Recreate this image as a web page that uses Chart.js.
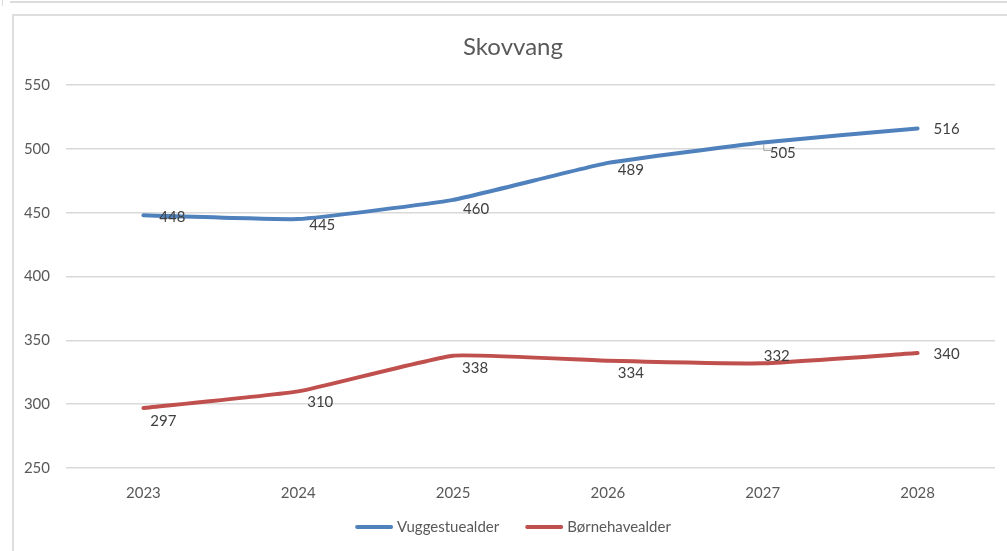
<!DOCTYPE html>
<html>
<head>
<meta charset="utf-8">
<script src="https://cdn.jsdelivr.net/npm/chart.js@4.4.0/dist/chart.umd.min.js"></script>
<style>
  html, body { margin: 0; padding: 0; background: #fff; }
  #wrap { position: relative; width: 1007px; height: 551px; overflow: hidden; }
  .topline { position: absolute; left: 10px; top: 1px; width: 1000px; height: 2px; background: #dcdcdc; }
  .tick { position: absolute; left: 2px; top: 0; width: 1px; height: 6px; background: #dcdcdc; }
  .frame { position: absolute; left: 12px; top: 14px; width: 1100px; height: 600px; border: 2px solid #dedede; }
  canvas { position: absolute; left: 0; top: 0; }
</style>
</head>
<body>
<div id="wrap">
  <div class="topline"></div>
  <div class="tick"></div>
  <div class="frame"></div>
  <canvas id="chart" width="1007" height="551"></canvas>
</div>
<script>
// data
var chartTitle = "Skovvang";
var years = ["2023", "2024", "2025", "2026", "2027", "2028"];
var vuggestue = [448, 445, 460, 489, 505, 516];
var boernehave = [297, 310, 338, 334, 332, 340];
var yTicks = [250, 300, 350, 400, 450, 500, 550];

// label offsets (px from point)
var offsVugge = [[29, 2], [24, 6], [23, 9], [23, 7], [20, 11], [29, 1]];
var offsBoern = [[20, 13], [22, 11], [22, 13], [23, 12], [14, -7], [29, 1]];

var fontName = "Lato, 'Open Sans', sans-serif";
var padRight = 12, padBottom = 6, padTop = 85;
var midX = 513;

var labelPlugin = {
    id: 'pointLabels',
    afterDatasetsDraw: function(chart) {
        var ctx = chart.ctx;
        ctx.save();
        ctx.font = "15px " + fontName;
        ctx.fillStyle = "#404040";
        ctx.textAlign = "center";
        ctx.textBaseline = "middle";
        chart.data.datasets.forEach(function(ds, di) {
            var meta = chart.getDatasetMeta(di);
            var offs = di == 0 ? offsVugge : offsBoern;
            meta.data.forEach(function(pt, i) {
                ctx.fillText(ds.data[i], pt.x + offs[i][0], pt.y + offs[i][1]);
            });
        });
        // little leader line at 2027 (blue)
        var p = chart.getDatasetMeta(0).data[4];
        ctx.strokeStyle = "#a6a6a6";
        ctx.lineWidth = 1;
        ctx.beginPath();
        ctx.moveTo(p.x + 1, p.y + 2);
        ctx.lineTo(p.x + 1, p.y + 8);
        ctx.lineTo(p.x + 9, p.y + 8);
        ctx.stroke();
        ctx.restore();
    }
};

/* title + legend */
var textPlugin = {
    id: 'titleLegend',
    afterDraw: function(chart) {
        var ctx = chart.ctx;
        ctx.save();
        ctx.textBaseline = "middle";

        ctx.font = "24px " + fontName;
        ctx.fillStyle = "#595959";
        ctx.textAlign = "center";
        ctx.fillText(chartTitle, midX, 47);

        ctx.textAlign = "left";
        ctx.font = "15px " + fontName;
        var lineW = 38, gapText = 4, gapItem = 26;
        var items = chart.data.datasets;
        var total = 0;
        items.forEach(function(ds, i) {
            total += lineW + gapText + ctx.measureText(ds.label).width;
            if (i < items.length - 1) total += gapItem;
        });
        var x = midX - total / 2;
        var y = 527;
        items.forEach(function(ds) {
            ctx.strokeStyle = ds.borderColor;
            ctx.lineWidth = 4;
            ctx.lineCap = 'round';
            ctx.beginPath();
            ctx.moveTo(x + 2, y);
            ctx.lineTo(x + lineW - 2, y);
            ctx.stroke();
            x += lineW + gapText;
            ctx.fillStyle = "#595959";
            ctx.fillText(ds.label, x, y);
            x += ctx.measureText(ds.label).width + gapItem;
        });
        ctx.restore();
    }
};

var ctx = document.getElementById("chart").getContext("2d");
window.theChart = new Chart(ctx, {
    type: 'line',
    data: {
        labels: years,
        datasets: [{
            label: 'Vuggestuealder',
            data: vuggestue,
            borderColor: "#4f81bd",
            backgroundColor: "#4f81bd",
            borderWidth: 4,
            pointRadius: 0,
            tension: 0.12,
            borderCapStyle: 'round'
        }, {
            label: 'Børnehavealder',
            data: boernehave,
            borderColor: "#c0504d",
            backgroundColor: "#c0504d",
            borderWidth: 4,
            pointRadius: 0,
            tension: 0.12,
            borderCapStyle: 'round'
        }]
    },
    options: {
        responsive: false,
        animation: false,
        layout: { padding: { left: 0, right: padRight, top: padTop, bottom: padBottom } },
        plugins: {
            title: { display: false },
            legend: { display: false },
            tooltip: { enabled: false }
        },
        scales: {
            x: {
                offset: true,
                grid: { display: false, drawTicks: false },
                border: { display: false },
                ticks: { color: '#595959', font: { family: fontName, size: 15 }, padding: 16 },
                afterFit: function(scale) {
                    scale.height = 551 - 468 - padBottom;
                }
            },
            y: {
                min: 250,
                max: 550,
                afterBuildTicks: function(scale) {
                    scale.ticks = yTicks.map(function(v) { return { value: v }; });
                },
                grid: { color: '#d9d9d9', lineWidth: 1.5, drawTicks: false },
                border: { display: false },
                ticks: { color: '#595959', font: { family: fontName, size: 15 }, padding: 16 },
                afterFit: function(scale) {
                    scale.width = 66;
                }
            }
        }
    },
    plugins: [labelPlugin, textPlugin]
});
</script>
</body>
</html>
